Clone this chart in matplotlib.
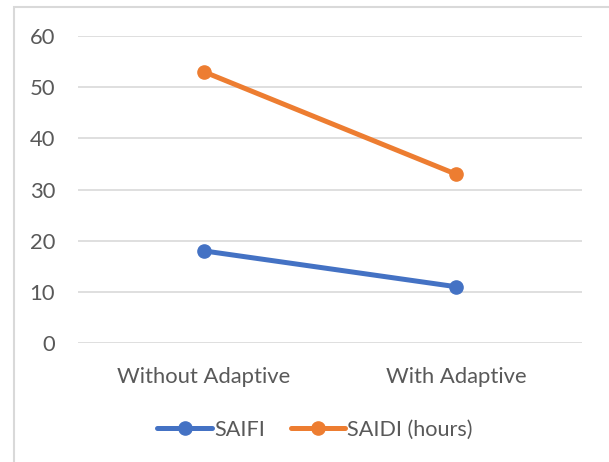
import matplotlib
matplotlib.use("Agg")
import matplotlib.pyplot as plt
from matplotlib.patches import Rectangle

categories = ["Without Adaptive", "With Adaptive"]
saifi = [18, 11]
saidi = [53, 33]
y_ticks = [0, 10, 20, 30, 40, 50, 60]

blue = "#4472C4"
orange = "#ED7D31"
text_grey = "#595959"

plt.rcParams['font.family'] = ['Lato', 'DejaVu Sans']

fig = plt.figure(figsize=(6.09, 4.62), dpi=100)
ax = fig.add_axes([78/609, 1 - 343/462, (582 - 78)/609, (343 - 36)/462])

# chart frame, cut off on the right and bottom
fig.patches.append(Rectangle((14/609, -0.1), 1.2, 1 - 7/462 + 0.1,
                             transform=fig.transFigure, fill=False,
                             edgecolor="#d9d9d9", linewidth=1.5))

x = [0, 1]
ax.plot(x, saifi, color=blue, linewidth=3.6, marker='o', markersize=9.5,
        label="SAIFI", solid_capstyle='round')
ax.plot(x, saidi, color=orange, linewidth=3.6, marker='o', markersize=9.5,
        label="SAIDI (hours)", solid_capstyle='round')

ax.set_xlim(-0.5, 1.5)
ax.set_ylim(0, 60)
ax.set_yticks(y_ticks)
ax.set_xticks(x)
ax.set_xticklabels(categories)
ax.grid(axis='y', color="#d9d9d9", linewidth=1.2)
ax.set_axisbelow(True)
for s in ax.spines.values():
    s.set_visible(False)
ax.tick_params(length=0, labelsize=15.8, colors=text_grey)
ax.tick_params(axis='x', pad=17)
ax.tick_params(axis='y', pad=16.5)

ax.legend(loc='center', bbox_to_anchor=(0.5 - 15/504, -0.2825), ncol=2,
          frameon=False, fontsize=15.6, labelcolor=text_grey,
          handlelength=2.5, handletextpad=0.1, columnspacing=1.2)

fig.savefig("out.png", dpi=100, facecolor="white")
